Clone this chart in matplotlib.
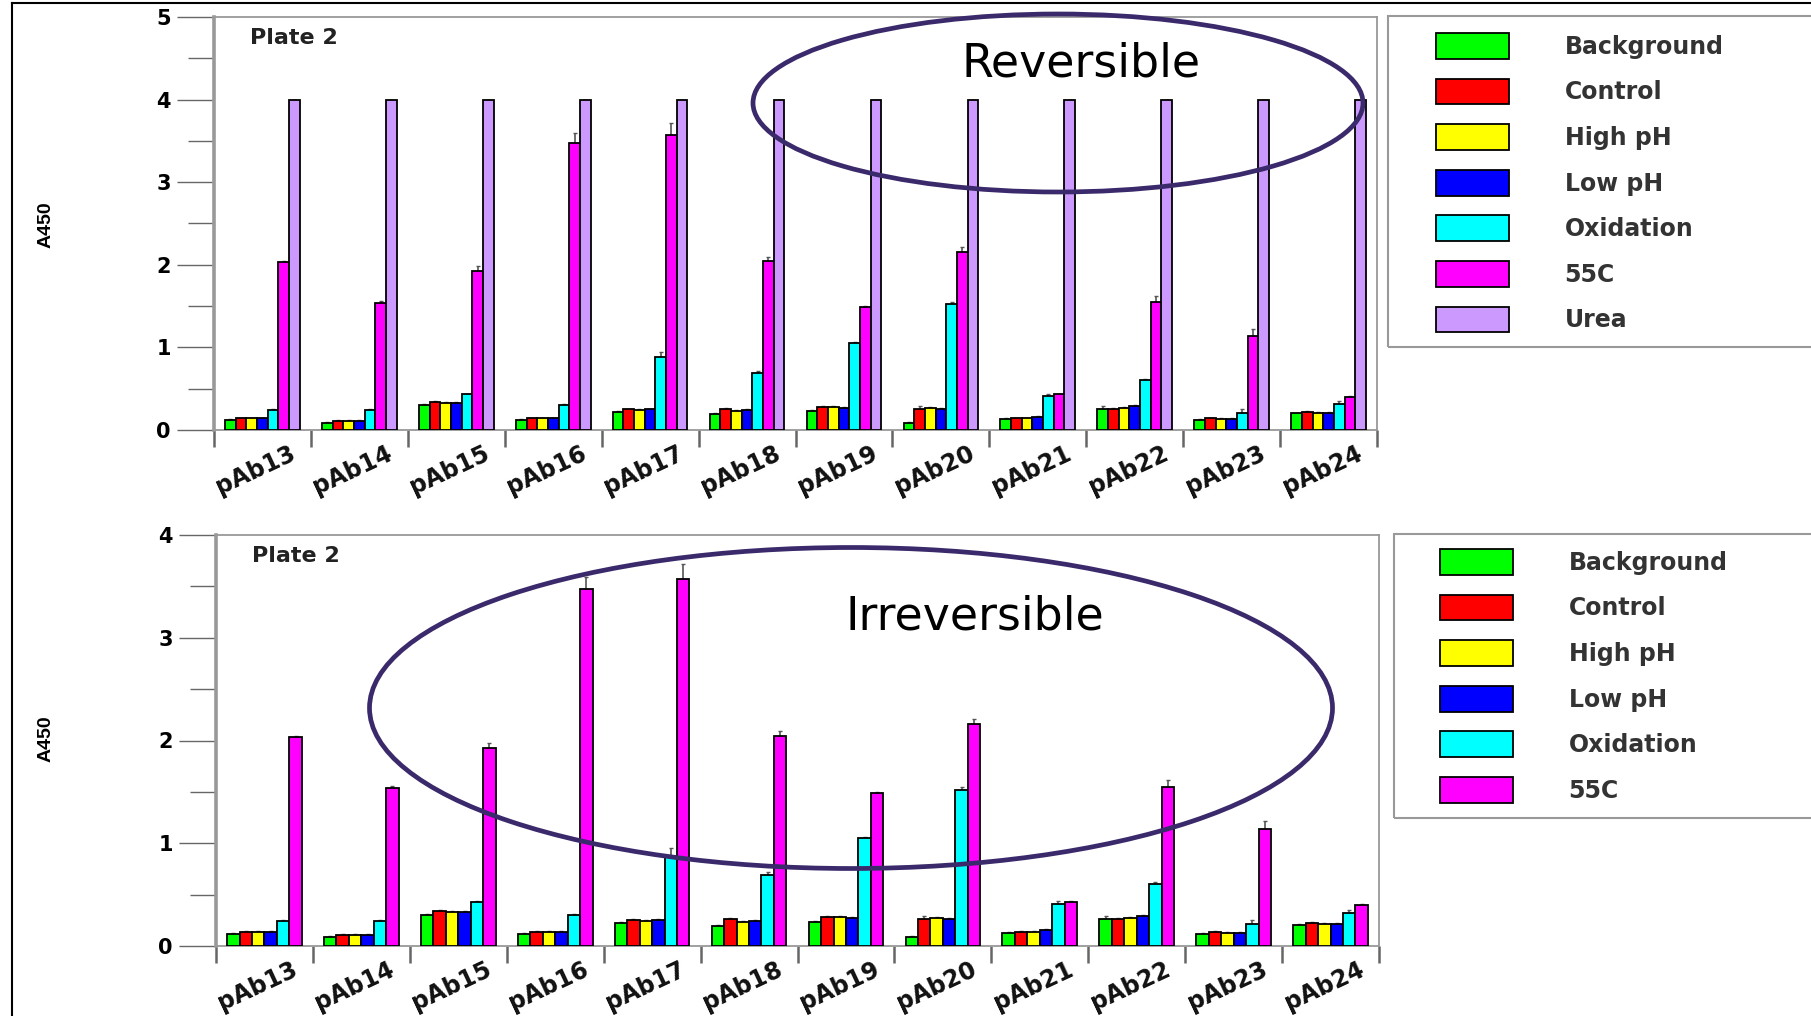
import matplotlib
matplotlib.use("Agg")
import matplotlib.pyplot as plt
import numpy as np
from matplotlib.patches import Ellipse, Rectangle
from matplotlib.lines import Line2D
from matplotlib.ticker import MultipleLocator

plt.rcParams["font.family"] = ["DejaVu Sans"]

groups = ["pAb13", "pAb14", "pAb15", "pAb16", "pAb17", "pAb18",
          "pAb19", "pAb20", "pAb21", "pAb22", "pAb23", "pAb24"]

background = [0.12, 0.09, 0.30, 0.12, 0.22, 0.19, 0.23, 0.09, 0.13, 0.26, 0.12, 0.20]
control = [0.14, 0.11, 0.34, 0.14, 0.25, 0.26, 0.28, 0.26, 0.14, 0.26, 0.14, 0.22]
high_ph = [0.14, 0.11, 0.33, 0.14, 0.24, 0.23, 0.28, 0.27, 0.14, 0.27, 0.13, 0.21]
low_ph = [0.14, 0.11, 0.33, 0.14, 0.25, 0.24, 0.27, 0.26, 0.155, 0.29, 0.13, 0.21]
oxidation = [0.24, 0.24, 0.43, 0.30, 0.88, 0.69, 1.05, 1.52, 0.41, 0.60, 0.21, 0.32]
c55 = [2.03, 1.54, 1.93, 3.47, 3.57, 2.04, 1.49, 2.16, 0.43, 1.55, 1.14, 0.40]
urea = [4.0, 4.0, 4.0, 4.0, 4.0, 4.0, 4.0, 4.0, 4.0, 4.0, 4.0, 4.0]

# upper error bars
background_err = [0.01, 0.01, 0.01, 0.01, 0.01, 0.01, 0.01, 0.01, 0.01, 0.03, 0.01, 0.01]
control_err = [0.01, 0.01, 0.01, 0.01, 0.01, 0.01, 0.01, 0.03, 0.01, 0.01, 0.01, 0.01]
high_ph_err = [0.01, 0.01, 0.01, 0.01, 0.01, 0.01, 0.01, 0.01, 0.01, 0.01, 0.01, 0.01]
low_ph_err = [0.01, 0.01, 0.01, 0.01, 0.01, 0.01, 0.01, 0.01, 0.01, 0.01, 0.01, 0.01]
oxidation_err = [0.01, 0.01, 0.01, 0.01, 0.07, 0.03, 0.01, 0.03, 0.03, 0.02, 0.04, 0.03]
c55_err = [0.01, 0.02, 0.05, 0.12, 0.15, 0.05, 0.01, 0.05, 0.01, 0.07, 0.08, 0.01]
urea_err = [0, 0, 0, 0, 0, 0, 0, 0, 0, 0, 0, 0]

labels = ["Background", "Control", "High pH", "Low pH", "Oxidation", "55C", "Urea"]
colors = ["#00FF00", "#FF0000", "#FFFF00", "#0000FF", "#00FFFF", "#FF00FF", "#CC99FF"]

series = [background, control, high_ph, low_ph, oxidation, c55, urea]
errors = [background_err, control_err, high_ph_err, low_ph_err, oxidation_err, c55_err, urea_err]

W, H = 1811, 1016
fig = plt.figure(figsize=(W / 100, H / 100), dpi=100)
fig.patch.set_facecolor("white")

ax_top = fig.add_axes([214 / W, 1 - 430 / H, 1163 / W, 413 / H])
ax_bot = fig.add_axes([216 / W, 1 - 946 / H, 1163 / W, 411 / H])

spine_col = "#999999"
tick_col = "#666666"


def draw_panel(ax, n_series, ymax, leg_xy, box):
    ngrp = len(groups)
    group_w = 0.77
    bw = group_w / n_series
    base = np.arange(ngrp) + (1 - group_w) / 2
    handles = []
    for k in range(n_series):
        xs = base + (k + 0.5) * bw
        bars = ax.bar(xs, series[k], width=bw, color=colors[k], edgecolor="black",
                      linewidth=1.3, zorder=3)
        err = np.array(errors[k])
        ax.errorbar(xs, series[k], yerr=[np.zeros(ngrp), err], fmt="none",
                    ecolor="#555555", elinewidth=1.2, capsize=1.5, zorder=2)
        handles.append(bars)

    ax.set_xlim(0, ngrp)
    ax.set_ylim(0, ymax)
    ax.set_xticks(np.arange(ngrp + 1))
    ax.set_xticklabels([])
    ax.set_xticks(np.arange(ngrp) + 0.83, labels=groups, minor=True)
    ax.tick_params(axis="x", which="major", length=12, width=1.8, color=tick_col, direction="out")
    ax.tick_params(axis="x", which="minor", length=0, pad=16, labelsize=17)
    for lbl in ax.get_xticklabels(minor=True):
        lbl.set_rotation(25)
        lbl.set_ha("right")
        lbl.set_va("center")
        lbl.set_rotation_mode("anchor")
        lbl.set_fontweight("bold")
        lbl.set_color("#111111")

    ax.yaxis.set_major_locator(MultipleLocator(1))
    ax.yaxis.set_minor_locator(MultipleLocator(0.5))
    ax.tick_params(axis="y", which="major", length=27, width=1.0, color=tick_col,
                   direction="out", pad=4, labelsize=15)
    ax.tick_params(axis="y", which="minor", length=19, width=1.0, color=tick_col, direction="out")
    for lbl in ax.get_yticklabels():
        lbl.set_fontweight("bold")

    for side in ["top", "right", "bottom"]:
        ax.spines[side].set_color(spine_col)
        ax.spines[side].set_linewidth(1.3)
    ax.spines["left"].set_color(spine_col)
    ax.spines["left"].set_linewidth(2.6)

    ax.text(0.031, 0.949, "Plate 2", transform=ax.transAxes, fontsize=16,
            fontweight="bold", color="#222222", va="center", ha="left")

    fig.add_artist(Rectangle((box[0], box[1]), box[2], box[3], transform=fig.transFigure,
                             fill=False, edgecolor=spine_col, linewidth=1.5))
    ax.legend(handles, labels[:n_series], loc="upper left", bbox_to_anchor=leg_xy,
              bbox_transform=fig.transFigure, frameon=False, borderpad=0,
              borderaxespad=0, handlelength=3.1, handleheight=1.3,
              labelspacing=0.84, handletextpad=2.35, labelcolor="#333333",
              prop={"weight": "bold", "size": 17})


draw_panel(ax_top, 7, 5, (1436 / W, 1 - 33 / H),
           (1388 / W, 1 - 347 / H, 0.3, (347 - 16) / H))
draw_panel(ax_bot, 6, 4, (1440 / W, 1 - 549 / H),
           (1394 / W, 1 - 818 / H, 0.3, (818 - 534) / H))

# y axis labels
fig.text(46 / W, 1 - 225 / H, "A450", rotation=90, fontsize=14, fontweight="bold",
         ha="center", va="center", family=["Liberation Sans"])
fig.text(46 / W, 1 - 739 / H, "A450", rotation=90, fontsize=14, fontweight="bold",
         ha="center", va="center", family=["Liberation Sans"])

# annotation ellipses and captions
ring = "#3B2A6B"
fig.add_artist(Ellipse((1058 / W, 1 - 103 / H), 610 / W, 178 / H, transform=fig.transFigure,
                       fill=False, edgecolor=ring, linewidth=3.4, zorder=10))
fig.add_artist(Ellipse((851 / W, 1 - 708 / H), 963 / W, 321 / H, transform=fig.transFigure,
                       fill=False, edgecolor=ring, linewidth=3.4, zorder=10))
fig.text(1081 / W, 1 - 64 / H, "Reversible", fontsize=33, ha="center", va="center", color="black")
fig.text(975 / W, 1 - 617 / H, "Irreversible", fontsize=33, ha="center", va="center", color="black")

# slide frame lines
fig.add_artist(Line2D([12 / W, 1], [1 - 3 / H, 1 - 3 / H], transform=fig.transFigure,
                      color="black", linewidth=1.5))
fig.add_artist(Line2D([12 / W, 12 / W], [0, 1 - 3 / H], transform=fig.transFigure,
                      color="black", linewidth=1.5))

fig.savefig("out.png", dpi=100)
